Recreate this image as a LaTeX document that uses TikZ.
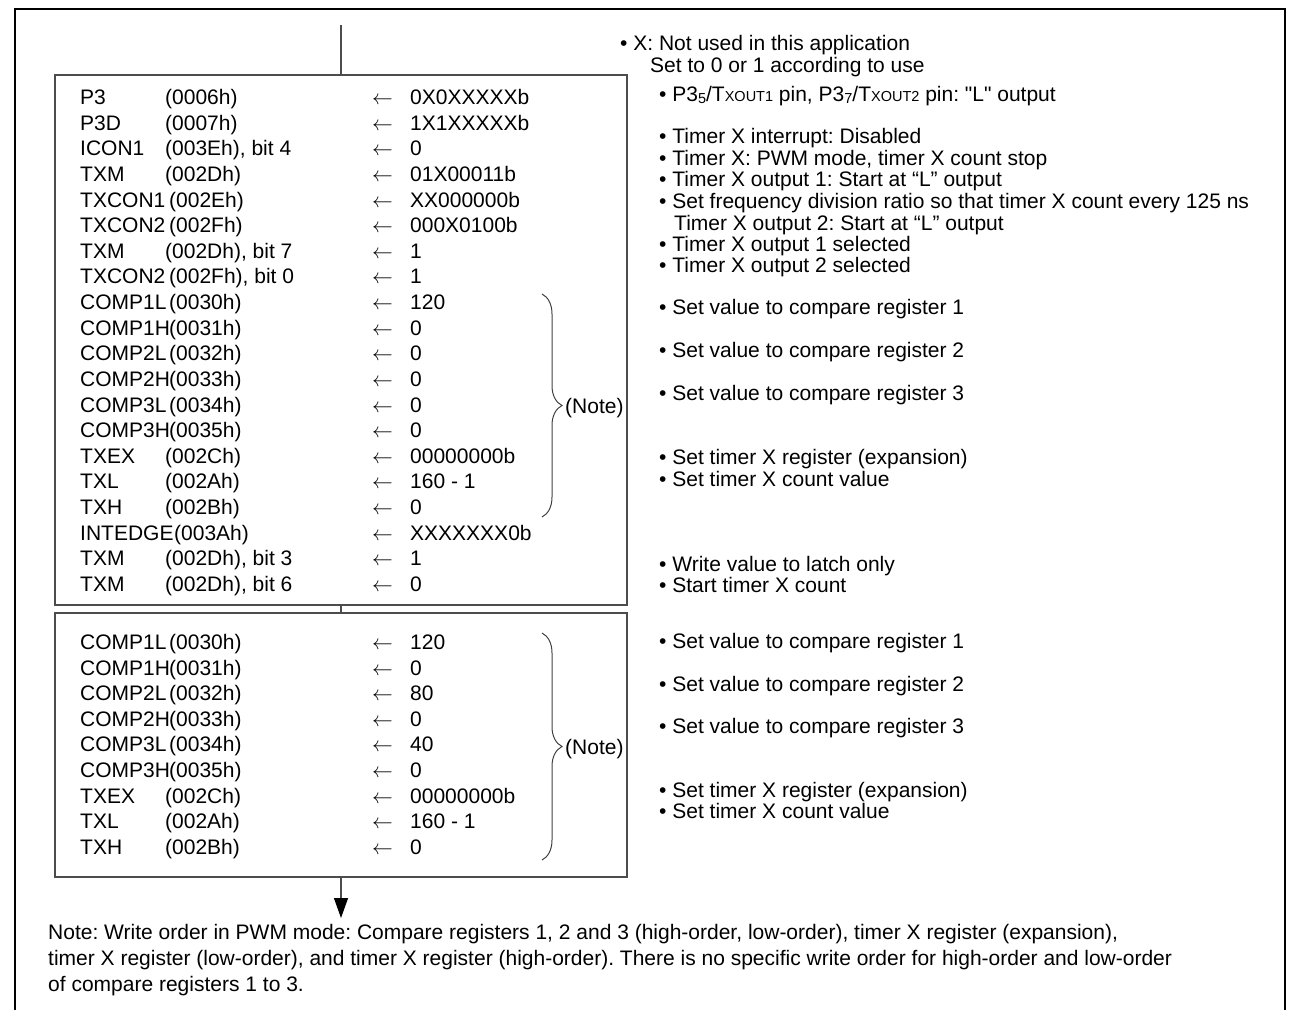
\documentclass[tikz,border=0pt]{standalone}
\usepackage{fontspec}
\setmainfont{Liberation Sans}[Ligatures=TeXOff]
\usetikzlibrary{arrows.meta,decorations.pathreplacing}
\newcommand{\smallsz}[1]{{\fontsize{14.5}{14.5}\selectfont #1}}
\newcommand{\subsz}[1]{\raisebox{-2pt}{\fontsize{14.5}{14.5}\selectfont #1}}
\frenchspacing
\begin{document}
\begin{tikzpicture}[x=1pt,y=-1pt,
  txt/.style={anchor=base west,inner sep=0pt,font=\fontsize{21}{21}\selectfont},
  boxline/.style={draw=black!70,line width=1.2pt,inner sep=0pt},
  conn/.style={draw=black!70,line width=1.2pt},
  bracestyle/.style={draw=black!75,line width=1pt,decorate,decoration={brace,amplitude=20pt}}]
\useasboundingbox (0,0) rectangle (1291,1010);
% outer frame (open at bottom)
\draw[line width=2pt] (15,1010) -- (15,9) -- (1285,9) -- (1285,1010);
% boxes
\node[boxline,minimum width=572pt,minimum height=530pt] (box1) at (341,340) {};
\node[boxline,minimum width=572pt,minimum height=264pt] (box2) at (341,745) {};
\coordinate (top) at (341,25);
\coordinate (end) at (341,918);
\draw[conn] (top) -- (box1.north);
\draw[conn] (box1.south) -- (box2.north);
\draw[conn,-{Triangle[length=20pt,width=14pt,color=black,fill=black]}] (box2.south) -- (end);
% box 1 rows
\foreach \nm/\ax/\ad/\va [count=\i from 0] in {
  P3/165/(0006h)/0X0XXXXXb,
  P3D/165/(0007h)/1X1XXXXXb,
  ICON1/165/{(003Eh), bit 4}/0,
  TXM/165/(002Dh)/01X00011b,
  TXCON1/169/(002Eh)/XX000000b,
  TXCON2/169/(002Fh)/000X0100b,
  TXM/165/{(002Dh), bit 7}/1,
  TXCON2/169/{(002Fh), bit 0}/1,
  COMP1L/169/(0030h)/120,
  COMP1H/169/(0031h)/0,
  COMP2L/169/(0032h)/0,
  COMP2H/169/(0033h)/0,
  COMP3L/169/(0034h)/0,
  COMP3H/169/(0035h)/0,
  TXEX/165/(002Ch)/00000000b,
  TXL/165/(002Ah)/160 - 1,
  TXH/165/(002Bh)/0,
  INTEDGE/174/(003Ah)/XXXXXXX0b,
  TXM/165/{(002Dh), bit 3}/1,
  TXM/165/{(002Dh), bit 6}/0}{
  \node[txt] (an\i) at (80,104.5+25.63*\i) {\nm};
  \node[txt] (aa\i) at (\ax,104.5+25.63*\i) {\ad};
  \node[txt] (aw\i) at (372,104.5+25.63*\i) {$\leftarrow$};
  \node[txt] (av\i) at (410,104.5+25.63*\i) {\va};
}
% box 2 rows
\foreach \nm/\ax/\ad/\va [count=\i from 0] in {
  COMP1L/169/(0030h)/120,
  COMP1H/169/(0031h)/0,
  COMP2L/169/(0032h)/80,
  COMP2H/169/(0033h)/0,
  COMP3L/169/(0034h)/40,
  COMP3H/169/(0035h)/0,
  TXEX/165/(002Ch)/00000000b,
  TXL/165/(002Ah)/160 - 1,
  TXH/165/(002Bh)/0}{
  \node[txt] (bn\i) at (80,649.5+25.6*\i) {\nm};
  \node[txt] (ba\i) at (\ax,649.5+25.6*\i) {\ad};
  \node[txt] (bw\i) at (372,649.5+25.6*\i) {$\leftarrow$};
  \node[txt] (bv\i) at (410,649.5+25.6*\i) {\va};
}
% braces
\coordinate (b1t) at (542,294);
\coordinate (b1b) at (542,517);
\draw[bracestyle] (b1t) -- (b1b);
\node[txt] (note1) at (565,413) {(Note)};
\coordinate (b2t) at (542,633);
\coordinate (b2b) at (542,860);
\draw[bracestyle] (b2t) -- (b2b);
\node[txt] (note2) at (565,754) {(Note)};
% right column comments
\node[txt] (c0) at (620,50.5) {• X: Not used in this application};
\node[txt] (c0b) at (650,72) {Set to 0 or 1 according to use};
\node[txt] (c1) at (659,101.5) {• P3\subsz{5}/T\smallsz{XOUT1} pin, P3\subsz{7}/T\smallsz{XOUT2} pin: "L" output};
\node[txt] (c2) at (659,143.5) {• Timer X interrupt: Disabled};
\node[txt] (c3) at (659,165) {• Timer X: PWM mode, timer X count stop};
\node[txt] (c4) at (659,186.5) {• Timer X output 1: Start at “L” output};
\node[txt] (c5) at (659,208.5) {• Set frequency division ratio so that timer X count every 125 ns};
\node[txt] (c5b) at (674,230) {Timer X output 2: Start at “L” output};
\node[txt] (c6) at (659,251) {• Timer X output 1 selected};
\node[txt] (c7) at (659,272.5) {• Timer X output 2 selected};
\node[txt] (c8) at (659,314) {• Set value to compare register 1};
\node[txt] (c9) at (659,357.5) {• Set value to compare register 2};
\node[txt] (c10) at (659,400) {• Set value to compare register 3};
\node[txt] (c11) at (659,464.5) {• Set timer X register (expansion)};
\node[txt] (c12) at (659,486) {• Set timer X count value};
\node[txt] (c13) at (659,571) {• Write value to latch only};
\node[txt] (c14) at (659,592) {• Start timer X count};
\node[txt] (d1) at (659,648) {• Set value to compare register 1};
\node[txt] (d2) at (659,691) {• Set value to compare register 2};
\node[txt] (d3) at (659,733) {• Set value to compare register 3};
\node[txt] (d4) at (659,797) {• Set timer X register (expansion)};
\node[txt] (d5) at (659,818) {• Set timer X count value};
% note
\node[txt] (n1) at (48,939.5) {Note: Write order in PWM mode: Compare registers 1, 2 and 3 (high-order, low-order), timer X register (expansion),};
\node[txt] (n2) at (48,965.5) {timer X register (low-order), and timer X register (high-order). There is no specific write order for high-order and low-order};
\node[txt] (n3) at (48,991.5) {of compare registers 1 to 3.};
\end{tikzpicture}
\end{document}
